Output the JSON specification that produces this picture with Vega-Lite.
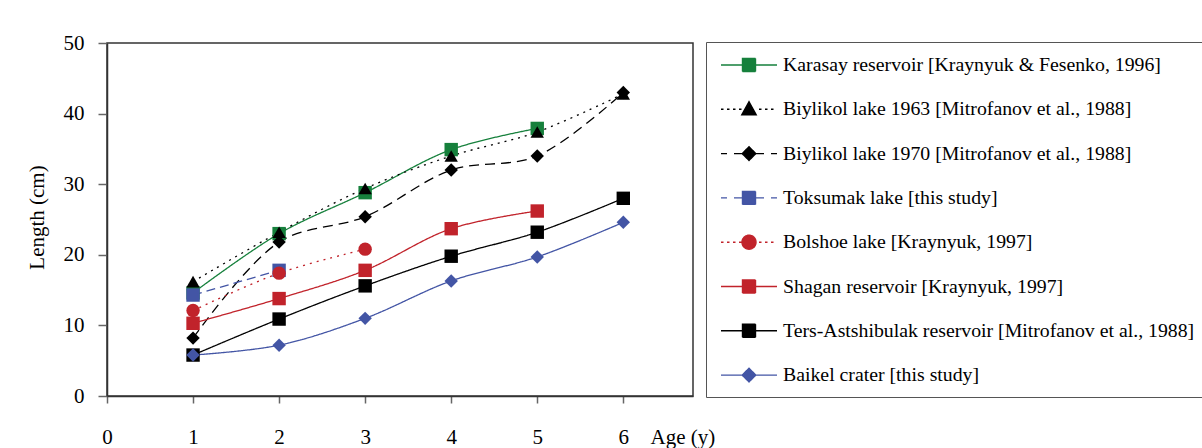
{
  "$schema": "https://vega.github.io/schema/vega-lite/v6.json",
  "width": 586,
  "height": 353,
  "autosize": "none",
  "padding": {"left": 107, "top": 43, "right": 509, "bottom": 52},
  "background": "white",
  "config": {
    "font": "Liberation Serif",
    "view": {"stroke": "#333", "strokeWidth": 1.5},
    "axis": {
      "grid": false,
      "domainColor": "#333",
      "domainWidth": 1.5,
      "tickColor": "#666",
      "tickWidth": 1.5,
      "labelFont": "Liberation Serif",
      "labelFontSize": 21,
      "labelColor": "#000",
      "titleFont": "Liberation Serif",
      "titleFontSize": 21,
      "titleFontWeight": "normal",
      "titleColor": "#000",
      "labelFlush": false,
      "labelOverlap": false
    },
    "legend": {
      "orient": "none",
      "legendX": 599,
      "legendY": -1,
      "padding": 12,
      "rowPadding": 23.3,
      "labelOffset": 23,
      "symbolOffset": 20,
      "symbolSize": 400,
      "symbolStrokeWidth": 1.4,
      "labelFont": "Liberation Serif",
      "labelFontSize": 19.8,
      "labelColor": "#000",
      "labelLimit": 700,
      "strokeColor": "#555",
      "fillColor": "white",
      "titleFontSize": 0
    }
  },
  "data": {
    "values": [
      {"series": "Karasay reservoir [Kraynyuk & Fesenko, 1996]", "age": 1, "length": 14.6},
      {"series": "Karasay reservoir [Kraynyuk & Fesenko, 1996]", "age": 2, "length": 23.0},
      {"series": "Karasay reservoir [Kraynyuk & Fesenko, 1996]", "age": 3, "length": 28.8},
      {"series": "Karasay reservoir [Kraynyuk & Fesenko, 1996]", "age": 4, "length": 34.9},
      {"series": "Karasay reservoir [Kraynyuk & Fesenko, 1996]", "age": 5, "length": 37.9},
      {"series": "Biylikol lake 1963 [Mitrofanov et al., 1988]", "age": 1, "length": 16.2},
      {"series": "Biylikol lake 1963 [Mitrofanov et al., 1988]", "age": 2, "length": 23.2},
      {"series": "Biylikol lake 1963 [Mitrofanov et al., 1988]", "age": 3, "length": 29.4},
      {"series": "Biylikol lake 1963 [Mitrofanov et al., 1988]", "age": 4, "length": 34.0},
      {"series": "Biylikol lake 1963 [Mitrofanov et al., 1988]", "age": 5, "length": 37.4},
      {"series": "Biylikol lake 1963 [Mitrofanov et al., 1988]", "age": 6, "length": 42.8},
      {"series": "Biylikol lake 1970 [Mitrofanov et al., 1988]", "age": 1, "length": 8.2},
      {"series": "Biylikol lake 1970 [Mitrofanov et al., 1988]", "age": 2, "length": 21.8},
      {"series": "Biylikol lake 1970 [Mitrofanov et al., 1988]", "age": 3, "length": 25.4},
      {"series": "Biylikol lake 1970 [Mitrofanov et al., 1988]", "age": 4, "length": 32.0},
      {"series": "Biylikol lake 1970 [Mitrofanov et al., 1988]", "age": 5, "length": 34.0},
      {"series": "Biylikol lake 1970 [Mitrofanov et al., 1988]", "age": 6, "length": 43.0},
      {"series": "Toksumak lake  [this study]", "age": 1, "length": 14.3},
      {"series": "Toksumak lake  [this study]", "age": 2, "length": 17.8},
      {"series": "Bolshoe lake [Kraynyuk, 1997]", "age": 1, "length": 12.1},
      {"series": "Bolshoe lake [Kraynyuk, 1997]", "age": 2, "length": 17.4},
      {"series": "Bolshoe lake [Kraynyuk, 1997]", "age": 3, "length": 20.8},
      {"series": "Shagan reservoir [Kraynyuk, 1997]", "age": 1, "length": 10.3},
      {"series": "Shagan reservoir [Kraynyuk, 1997]", "age": 2, "length": 13.8},
      {"series": "Shagan reservoir [Kraynyuk, 1997]", "age": 3, "length": 17.8},
      {"series": "Shagan reservoir [Kraynyuk, 1997]", "age": 4, "length": 23.7},
      {"series": "Shagan reservoir [Kraynyuk, 1997]", "age": 5, "length": 26.2},
      {"series": "Ters-Astshibulak reservoir [Mitrofanov et al., 1988]", "age": 1, "length": 5.8},
      {"series": "Ters-Astshibulak reservoir [Mitrofanov et al., 1988]", "age": 2, "length": 10.9},
      {"series": "Ters-Astshibulak reservoir [Mitrofanov et al., 1988]", "age": 3, "length": 15.6},
      {"series": "Ters-Astshibulak reservoir [Mitrofanov et al., 1988]", "age": 4, "length": 19.8},
      {"series": "Ters-Astshibulak reservoir [Mitrofanov et al., 1988]", "age": 5, "length": 23.2},
      {"series": "Ters-Astshibulak reservoir [Mitrofanov et al., 1988]", "age": 6, "length": 28.0},
      {"series": "Baikel crater  [this study]", "age": 1, "length": 5.8},
      {"series": "Baikel crater  [this study]", "age": 2, "length": 7.2},
      {"series": "Baikel crater  [this study]", "age": 3, "length": 11.0},
      {"series": "Baikel crater  [this study]", "age": 4, "length": 16.3},
      {"series": "Baikel crater  [this study]", "age": 5, "length": 19.7},
      {"series": "Baikel crater  [this study]", "age": 6, "length": 24.6}
    ]
  },
  "encoding": {
    "x": {
      "field": "age", "type": "quantitative",
      "scale": {"domain": [0, 6.81], "nice": false, "zero": false},
      "axis": {
        "values": [0, 1, 2, 3, 4, 5, 6],
        "tickSize": 7,
        "labelBaseline": "middle",
        "labelPadding": 34,
        "title": "Age (y)",
        "titleX": 543,
        "titleY": 41,
        "titleAlign": "left",
        "titleBaseline": "middle",
        "titleAngle": 0
      }
    },
    "y": {
      "field": "length", "type": "quantitative",
      "scale": {"domain": [0, 50], "nice": false},
      "axis": {
        "values": [0, 10, 20, 30, 40, 50],
        "tickSize": 9,
        "labelPadding": 14,
        "labelBaseline": "middle",
        "title": "Length (cm)",
        "titleX": -70,
        "titleY": 174,
        "titleAngle": -90,
        "titleAlign": "center",
        "titleBaseline": "middle"
      }
    },
    "color": {
      "field": "series", "type": "nominal",
      "scale": {
        "domain": [
          "Karasay reservoir [Kraynyuk & Fesenko, 1996]",
          "Biylikol lake 1963 [Mitrofanov et al., 1988]",
          "Biylikol lake 1970 [Mitrofanov et al., 1988]",
          "Toksumak lake  [this study]",
          "Bolshoe lake [Kraynyuk, 1997]",
          "Shagan reservoir [Kraynyuk, 1997]",
          "Ters-Astshibulak reservoir [Mitrofanov et al., 1988]",
          "Baikel crater  [this study]"
        ],
        "range": ["#16803c", "#000000", "#000000", "#4355a5", "#c1232b", "#c1232b", "#000000", "#4355a5"]
      },
      "legend": {
        "title": null,
        "encode": {
          "symbols": {
            "update": {
              "shape": {"signal": "['M-2.8,0H2.8M-0.65,-0.65H0.65V0.65H-0.65Z', 'M-2.8,0h0.25M-2.2,0h0.25M-1.6,0h0.25M-1.0,0h0.25M1.0,0h0.25M1.6,0h0.25M2.2,0h0.25M0,-0.75L0.72,0.55L-0.72,0.55Z', 'M-2.8,0H-2.2M-1.5,0H-0.6M0.6,0H1.5M2.2,0H2.8M-0.68,0L0,-0.68L0.68,0L0,0.68Z', 'M-2.8,0H-2.2M-1.5,0H-0.6M0.6,0H1.5M2.2,0H2.8M-0.65,-0.65H0.65V0.65H-0.65Z', 'M-2.8,0h0.25M-2.2,0h0.25M-1.6,0h0.25M-1.0,0h0.25M1.0,0h0.25M1.6,0h0.25M2.2,0h0.25M-0.7,0A0.7,0.7 0 1,0 0.7,0A0.7,0.7 0 1,0 -0.7,0Z', 'M-2.8,0H2.8M-0.65,-0.65H0.65V0.65H-0.65Z', 'M-2.8,0H2.8M-0.65,-0.65H0.65V0.65H-0.65Z', 'M-2.8,0H2.8M-0.68,0L0,-0.68L0.68,0L0,0.68Z'][indexof(domain('color'), datum.value)]"},
              "fill": {"signal": "scale('color', datum.value)"},
              "stroke": {"signal": "scale('color', datum.value)"},
              "strokeWidth": {"value": 1.4},
              "strokeDash": {"value": [1, 0]},
              "size": {"value": 400},
              "opacity": {"value": 1}
            }
          }
        }
      }
    }
  },
  "layer": [
    {
      "mark": {"type": "line", "interpolate": "catmull-rom"},
      "encoding": {
        "strokeDash": {
          "field": "series", "type": "nominal", "legend": null,
          "scale": {
            "domain": [
              "Baikel crater  [this study]",
              "Ters-Astshibulak reservoir [Mitrofanov et al., 1988]",
              "Shagan reservoir [Kraynyuk, 1997]",
              "Bolshoe lake [Kraynyuk, 1997]",
              "Toksumak lake  [this study]",
              "Biylikol lake 1970 [Mitrofanov et al., 1988]",
              "Biylikol lake 1963 [Mitrofanov et al., 1988]",
              "Karasay reservoir [Kraynyuk & Fesenko, 1996]"
            ],
            "range": [[1, 0], [1, 0], [1, 0], [2, 5], [9, 5], [10, 6], [2, 5], [1, 0]]
          }
        },
        "strokeWidth": {
          "field": "series", "type": "nominal", "legend": null,
          "scale": {
            "domain": [
              "Baikel crater  [this study]",
              "Ters-Astshibulak reservoir [Mitrofanov et al., 1988]",
              "Shagan reservoir [Kraynyuk, 1997]",
              "Bolshoe lake [Kraynyuk, 1997]",
              "Toksumak lake  [this study]",
              "Biylikol lake 1970 [Mitrofanov et al., 1988]",
              "Biylikol lake 1963 [Mitrofanov et al., 1988]",
              "Karasay reservoir [Kraynyuk & Fesenko, 1996]"
            ],
            "range": [1.3, 1.3, 1.3, 2.5, 1.5, 2.7, 2.5, 1.3]
          }
        }
      }
    },
    {
      "mark": {"type": "point", "filled": true, "opacity": 1, "size": 180},
      "encoding": {
        "shape": {
          "field": "series", "type": "nominal", "legend": null,
          "scale": {
            "domain": [
              "Baikel crater  [this study]",
              "Ters-Astshibulak reservoir [Mitrofanov et al., 1988]",
              "Shagan reservoir [Kraynyuk, 1997]",
              "Bolshoe lake [Kraynyuk, 1997]",
              "Toksumak lake  [this study]",
              "Biylikol lake 1970 [Mitrofanov et al., 1988]",
              "Biylikol lake 1963 [Mitrofanov et al., 1988]",
              "Karasay reservoir [Kraynyuk & Fesenko, 1996]"
            ],
            "range": ["diamond", "square", "square", "circle", "square", "diamond", "triangle-up", "square"]
          }
        }
      }
    }
  ]
}
